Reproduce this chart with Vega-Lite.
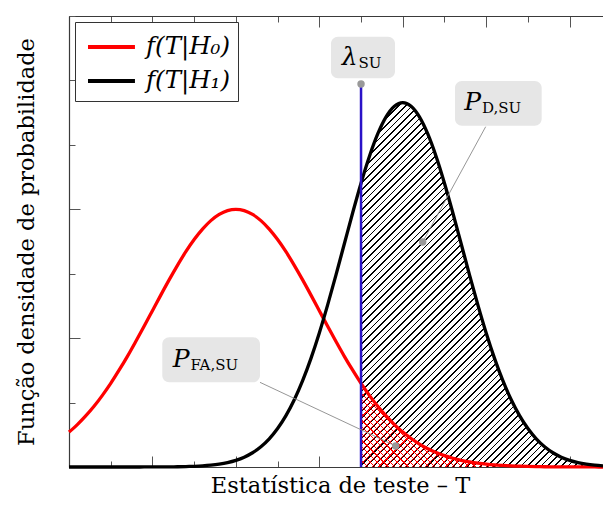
{
  "$schema": "https://vega.github.io/schema/vega-lite/v6.json",
  "width": 534,
  "height": 451,
  "autosize": {"type": "none"},
  "padding": {"left": 69, "top": 16, "right": 0, "bottom": 55},
  "background": "white",
  "config": {
    "view": {"stroke": null},
    "font": "DejaVu Serif",
    "axis": {
      "labels": false,
      "grid": false,
      "domainColor": "#3a3a3a",
      "domainWidth": 1.2,
      "tickColor": "#555555",
      "tickWidth": 1,
      "titleFont": "DejaVu Serif",
      "titleFontSize": 22.5,
      "titleFontWeight": "normal",
      "titleColor": "#000000"
    }
  },
  "datasets": {
    "curvas": [
      {"T": 0.0, "h0": 0.271, "h1": 0},
      {"T": 0.1, "h0": 0.329, "h1": 0},
      {"T": 0.2, "h0": 0.396, "h1": 0},
      {"T": 0.3, "h0": 0.471, "h1": 0},
      {"T": 0.4, "h0": 0.556, "h1": 0},
      {"T": 0.5, "h0": 0.649, "h1": 0},
      {"T": 0.6, "h0": 0.751, "h1": 0},
      {"T": 0.7, "h0": 0.859, "h1": 0},
      {"T": 0.8, "h0": 0.974, "h1": 0},
      {"T": 0.9, "h0": 1.092, "h1": 0.0002},
      {"T": 1.0, "h0": 1.213, "h1": 0.0003},
      {"T": 1.1, "h0": 1.334, "h1": 0.0006},
      {"T": 1.2, "h0": 1.452, "h1": 0.0011},
      {"T": 1.3, "h0": 1.565, "h1": 0.0019},
      {"T": 1.4, "h0": 1.671, "h1": 0.0033},
      {"T": 1.5, "h0": 1.765, "h1": 0.0055},
      {"T": 1.6, "h0": 1.846, "h1": 0.0089},
      {"T": 1.7, "h0": 1.912, "h1": 0.0143},
      {"T": 1.8, "h0": 1.960, "h1": 0.0224},
      {"T": 1.9, "h0": 1.990, "h1": 0.0344},
      {"T": 2.0, "h0": 2.000, "h1": 0.0518},
      {"T": 2.1, "h0": 1.990, "h1": 0.0765},
      {"T": 2.2, "h0": 1.960, "h1": 0.1107},
      {"T": 2.3, "h0": 1.912, "h1": 0.1572},
      {"T": 2.4, "h0": 1.846, "h1": 0.2186},
      {"T": 2.5, "h0": 1.765, "h1": 0.2981},
      {"T": 2.6, "h0": 1.671, "h1": 0.3984},
      {"T": 2.7, "h0": 1.565, "h1": 0.5218},
      {"T": 2.8, "h0": 1.452, "h1": 0.6700},
      {"T": 2.9, "h0": 1.334, "h1": 0.8433},
      {"T": 3.0, "h0": 1.213, "h1": 1.0404},
      {"T": 3.1, "h0": 1.092, "h1": 1.2582},
      {"T": 3.2, "h0": 0.974, "h1": 1.4912},
      {"T": 3.3, "h0": 0.859, "h1": 1.7324},
      {"T": 3.4, "h0": 0.751, "h1": 1.9731},
      {"T": 3.5, "h0": 0.649, "h1": 2.2025},
      {"T": 3.6, "h0": 0.556, "h1": 2.4098},
      {"T": 3.7, "h0": 0.471, "h1": 2.5845},
      {"T": 3.8, "h0": 0.396, "h1": 2.7171},
      {"T": 3.9, "h0": 0.329, "h1": 2.7998},
      {"T": 4.0, "h0": 0.271, "h1": 2.8284},
      {"T": 4.1, "h0": 0.221, "h1": 2.7998},
      {"T": 4.2, "h0": 0.178, "h1": 2.7171},
      {"T": 4.3, "h0": 0.142, "h1": 2.5845},
      {"T": 4.4, "h0": 0.112, "h1": 2.4098},
      {"T": 4.5, "h0": 0.088, "h1": 2.2025},
      {"T": 4.6, "h0": 0.068, "h1": 1.9731},
      {"T": 4.7, "h0": 0.052, "h1": 1.7324},
      {"T": 4.8, "h0": 0.040, "h1": 1.4912},
      {"T": 4.9, "h0": 0.030, "h1": 1.2582},
      {"T": 5.0, "h0": 0.022, "h1": 1.0404},
      {"T": 5.1, "h0": 0.016, "h1": 0.8433},
      {"T": 5.2, "h0": 0.012, "h1": 0.6700},
      {"T": 5.3, "h0": 0.0086, "h1": 0.5218},
      {"T": 5.4, "h0": 0.0062, "h1": 0.3984},
      {"T": 5.5, "h0": 0.0044, "h1": 0.2981},
      {"T": 5.6, "h0": 0.0031, "h1": 0.2186},
      {"T": 5.7, "h0": 0.0021, "h1": 0.1572},
      {"T": 5.8, "h0": 0.0015, "h1": 0.1107},
      {"T": 5.9, "h0": 0.0010, "h1": 0.0765},
      {"T": 6.0, "h0": 0.0007, "h1": 0.0518},
      {"T": 6.1, "h0": 0.0004, "h1": 0.0344},
      {"T": 6.2, "h0": 0.0003, "h1": 0.0224},
      {"T": 6.3, "h0": 0.0002, "h1": 0.0143},
      {"T": 6.4, "h0": 0.0001, "h1": 0.0089}
    ],
    "limiar": [{"T": 3.5, "f": 2.972}],
    "caixas": [
      {"nome": "lambda", "x0": 3.140, "x1": 3.907, "y0": 3.016, "y1": 3.339},
      {"nome": "pd", "x0": 4.626, "x1": 5.665, "y0": 2.649, "y1": 2.995},
      {"nome": "pfa", "x0": 1.118, "x1": 2.289, "y0": 0.657, "y1": 1.007}
    ],
    "rotulos": [
      {"nome": "lambda", "T": 3.458, "f": 3.120, "txt": "λ", "sub": "SU"},
      {"nome": "pd", "T": 4.938, "f": 2.770, "txt": "P", "sub": "D,SU"},
      {"nome": "pfa", "T": 1.444, "f": 0.778, "txt": "P", "sub": "FA,SU"}
    ],
    "ponteiros": [
      {"nome": "pd", "x0": 4.994, "y0": 2.641, "x1": 4.239, "y1": 1.746},
      {"nome": "pfa", "x0": 2.289, "y0": 0.657, "x1": 3.915, "y1": 0.163}
    ],
    "pontos": [
      {"nome": "lambda", "T": 3.5, "f": 2.972},
      {"nome": "pd", "T": 4.239, "f": 1.746},
      {"nome": "pfa", "T": 3.915, "f": 0.163}
    ]
  },
  "resolve": {"axis": {"x": "independent", "y": "independent"}},
  "layer": [
    {
      "data": {"name": "curvas"},
      "transform": [{"filter": "datum.T >= 3.5"}],
      "mark": {
        "type": "area",
        "interpolate": "monotone",
        "fill": {
          "gradient": "linear", "x1": 0, "y1": 0, "x2": 0.8471, "y2": 1.2759,
          "stops": [
            {"offset":0,"color":"#000"},{"offset":0.0025,"color":"#000"},{"offset":0.0025,"color":"#fff"},{"offset":0.01,"color":"#fff"},
            {"offset":0.01,"color":"#000"},{"offset":0.0125,"color":"#000"},{"offset":0.0125,"color":"#fff"},{"offset":0.02,"color":"#fff"},
            {"offset":0.02,"color":"#000"},{"offset":0.0225,"color":"#000"},{"offset":0.0225,"color":"#fff"},{"offset":0.03,"color":"#fff"},
            {"offset":0.03,"color":"#000"},{"offset":0.0325,"color":"#000"},{"offset":0.0325,"color":"#fff"},{"offset":0.04,"color":"#fff"},
            {"offset":0.04,"color":"#000"},{"offset":0.0425,"color":"#000"},{"offset":0.0425,"color":"#fff"},{"offset":0.05,"color":"#fff"},
            {"offset":0.05,"color":"#000"},{"offset":0.0525,"color":"#000"},{"offset":0.0525,"color":"#fff"},{"offset":0.06,"color":"#fff"},
            {"offset":0.06,"color":"#000"},{"offset":0.0625,"color":"#000"},{"offset":0.0625,"color":"#fff"},{"offset":0.07,"color":"#fff"},
            {"offset":0.07,"color":"#000"},{"offset":0.0725,"color":"#000"},{"offset":0.0725,"color":"#fff"},{"offset":0.08,"color":"#fff"},
            {"offset":0.08,"color":"#000"},{"offset":0.0825,"color":"#000"},{"offset":0.0825,"color":"#fff"},{"offset":0.09,"color":"#fff"},
            {"offset":0.09,"color":"#000"},{"offset":0.0925,"color":"#000"},{"offset":0.0925,"color":"#fff"},{"offset":0.10,"color":"#fff"},
            {"offset":0.10,"color":"#000"},{"offset":0.1025,"color":"#000"},{"offset":0.1025,"color":"#fff"},{"offset":0.11,"color":"#fff"},
            {"offset":0.11,"color":"#000"},{"offset":0.1125,"color":"#000"},{"offset":0.1125,"color":"#fff"},{"offset":0.12,"color":"#fff"},
            {"offset":0.12,"color":"#000"},{"offset":0.1225,"color":"#000"},{"offset":0.1225,"color":"#fff"},{"offset":0.13,"color":"#fff"},
            {"offset":0.13,"color":"#000"},{"offset":0.1325,"color":"#000"},{"offset":0.1325,"color":"#fff"},{"offset":0.14,"color":"#fff"},
            {"offset":0.14,"color":"#000"},{"offset":0.1425,"color":"#000"},{"offset":0.1425,"color":"#fff"},{"offset":0.15,"color":"#fff"},
            {"offset":0.15,"color":"#000"},{"offset":0.1525,"color":"#000"},{"offset":0.1525,"color":"#fff"},{"offset":0.16,"color":"#fff"},
            {"offset":0.16,"color":"#000"},{"offset":0.1625,"color":"#000"},{"offset":0.1625,"color":"#fff"},{"offset":0.17,"color":"#fff"},
            {"offset":0.17,"color":"#000"},{"offset":0.1725,"color":"#000"},{"offset":0.1725,"color":"#fff"},{"offset":0.18,"color":"#fff"},
            {"offset":0.18,"color":"#000"},{"offset":0.1825,"color":"#000"},{"offset":0.1825,"color":"#fff"},{"offset":0.19,"color":"#fff"},
            {"offset":0.19,"color":"#000"},{"offset":0.1925,"color":"#000"},{"offset":0.1925,"color":"#fff"},{"offset":0.20,"color":"#fff"},
            {"offset":0.20,"color":"#000"},{"offset":0.2025,"color":"#000"},{"offset":0.2025,"color":"#fff"},{"offset":0.21,"color":"#fff"},
            {"offset":0.21,"color":"#000"},{"offset":0.2125,"color":"#000"},{"offset":0.2125,"color":"#fff"},{"offset":0.22,"color":"#fff"},
            {"offset":0.22,"color":"#000"},{"offset":0.2225,"color":"#000"},{"offset":0.2225,"color":"#fff"},{"offset":0.23,"color":"#fff"},
            {"offset":0.23,"color":"#000"},{"offset":0.2325,"color":"#000"},{"offset":0.2325,"color":"#fff"},{"offset":0.24,"color":"#fff"},
            {"offset":0.24,"color":"#000"},{"offset":0.2425,"color":"#000"},{"offset":0.2425,"color":"#fff"},{"offset":0.25,"color":"#fff"},
            {"offset":0.25,"color":"#000"},{"offset":0.2525,"color":"#000"},{"offset":0.2525,"color":"#fff"},{"offset":0.26,"color":"#fff"},
            {"offset":0.26,"color":"#000"},{"offset":0.2625,"color":"#000"},{"offset":0.2625,"color":"#fff"},{"offset":0.27,"color":"#fff"},
            {"offset":0.27,"color":"#000"},{"offset":0.2725,"color":"#000"},{"offset":0.2725,"color":"#fff"},{"offset":0.28,"color":"#fff"},
            {"offset":0.28,"color":"#000"},{"offset":0.2825,"color":"#000"},{"offset":0.2825,"color":"#fff"},{"offset":0.29,"color":"#fff"},
            {"offset":0.29,"color":"#000"},{"offset":0.2925,"color":"#000"},{"offset":0.2925,"color":"#fff"},{"offset":0.30,"color":"#fff"},
            {"offset":0.30,"color":"#000"},{"offset":0.3025,"color":"#000"},{"offset":0.3025,"color":"#fff"},{"offset":0.31,"color":"#fff"},
            {"offset":0.31,"color":"#000"},{"offset":0.3125,"color":"#000"},{"offset":0.3125,"color":"#fff"},{"offset":0.32,"color":"#fff"},
            {"offset":0.32,"color":"#000"},{"offset":0.3225,"color":"#000"},{"offset":0.3225,"color":"#fff"},{"offset":0.33,"color":"#fff"},
            {"offset":0.33,"color":"#000"},{"offset":0.3325,"color":"#000"},{"offset":0.3325,"color":"#fff"},{"offset":0.34,"color":"#fff"},
            {"offset":0.34,"color":"#000"},{"offset":0.3425,"color":"#000"},{"offset":0.3425,"color":"#fff"},{"offset":0.35,"color":"#fff"},
            {"offset":0.35,"color":"#000"},{"offset":0.3525,"color":"#000"},{"offset":0.3525,"color":"#fff"},{"offset":0.36,"color":"#fff"},
            {"offset":0.36,"color":"#000"},{"offset":0.3625,"color":"#000"},{"offset":0.3625,"color":"#fff"},{"offset":0.37,"color":"#fff"},
            {"offset":0.37,"color":"#000"},{"offset":0.3725,"color":"#000"},{"offset":0.3725,"color":"#fff"},{"offset":0.38,"color":"#fff"},
            {"offset":0.38,"color":"#000"},{"offset":0.3825,"color":"#000"},{"offset":0.3825,"color":"#fff"},{"offset":0.39,"color":"#fff"},
            {"offset":0.39,"color":"#000"},{"offset":0.3925,"color":"#000"},{"offset":0.3925,"color":"#fff"},{"offset":0.40,"color":"#fff"},
            {"offset":0.40,"color":"#000"},{"offset":0.4025,"color":"#000"},{"offset":0.4025,"color":"#fff"},{"offset":0.41,"color":"#fff"},
            {"offset":0.41,"color":"#000"},{"offset":0.4125,"color":"#000"},{"offset":0.4125,"color":"#fff"},{"offset":0.42,"color":"#fff"},
            {"offset":0.42,"color":"#000"},{"offset":0.4225,"color":"#000"},{"offset":0.4225,"color":"#fff"},{"offset":0.43,"color":"#fff"},
            {"offset":0.43,"color":"#000"},{"offset":0.4325,"color":"#000"},{"offset":0.4325,"color":"#fff"},{"offset":0.44,"color":"#fff"},
            {"offset":0.44,"color":"#000"},{"offset":0.4425,"color":"#000"},{"offset":0.4425,"color":"#fff"},{"offset":0.45,"color":"#fff"},
            {"offset":0.45,"color":"#000"},{"offset":0.4525,"color":"#000"},{"offset":0.4525,"color":"#fff"},{"offset":0.46,"color":"#fff"},
            {"offset":0.46,"color":"#000"},{"offset":0.4625,"color":"#000"},{"offset":0.4625,"color":"#fff"},{"offset":0.47,"color":"#fff"},
            {"offset":0.47,"color":"#000"},{"offset":0.4725,"color":"#000"},{"offset":0.4725,"color":"#fff"},{"offset":0.48,"color":"#fff"},
            {"offset":0.48,"color":"#000"},{"offset":0.4825,"color":"#000"},{"offset":0.4825,"color":"#fff"},{"offset":0.49,"color":"#fff"},
            {"offset":0.49,"color":"#000"},{"offset":0.4925,"color":"#000"},{"offset":0.4925,"color":"#fff"},{"offset":0.50,"color":"#fff"},
            {"offset":0.50,"color":"#000"},{"offset":0.5025,"color":"#000"},{"offset":0.5025,"color":"#fff"},{"offset":0.51,"color":"#fff"},
            {"offset":0.51,"color":"#000"},{"offset":0.5125,"color":"#000"},{"offset":0.5125,"color":"#fff"},{"offset":0.52,"color":"#fff"},
            {"offset":0.52,"color":"#000"},{"offset":0.5225,"color":"#000"},{"offset":0.5225,"color":"#fff"},{"offset":0.53,"color":"#fff"},
            {"offset":0.53,"color":"#000"},{"offset":0.5325,"color":"#000"},{"offset":0.5325,"color":"#fff"},{"offset":0.54,"color":"#fff"},
            {"offset":0.54,"color":"#000"},{"offset":0.5425,"color":"#000"},{"offset":0.5425,"color":"#fff"},{"offset":0.55,"color":"#fff"},
            {"offset":0.55,"color":"#000"},{"offset":0.5525,"color":"#000"},{"offset":0.5525,"color":"#fff"},{"offset":0.56,"color":"#fff"},
            {"offset":0.56,"color":"#000"},{"offset":0.5625,"color":"#000"},{"offset":0.5625,"color":"#fff"},{"offset":0.57,"color":"#fff"},
            {"offset":0.57,"color":"#000"},{"offset":0.5725,"color":"#000"},{"offset":0.5725,"color":"#fff"},{"offset":0.58,"color":"#fff"},
            {"offset":0.58,"color":"#000"},{"offset":0.5825,"color":"#000"},{"offset":0.5825,"color":"#fff"},{"offset":0.59,"color":"#fff"},
            {"offset":0.59,"color":"#000"},{"offset":0.5925,"color":"#000"},{"offset":0.5925,"color":"#fff"},{"offset":0.60,"color":"#fff"},
            {"offset":0.60,"color":"#000"},{"offset":0.6025,"color":"#000"},{"offset":0.6025,"color":"#fff"},{"offset":0.61,"color":"#fff"},
            {"offset":0.61,"color":"#000"},{"offset":0.6125,"color":"#000"},{"offset":0.6125,"color":"#fff"},{"offset":0.62,"color":"#fff"},
            {"offset":0.62,"color":"#000"},{"offset":0.6225,"color":"#000"},{"offset":0.6225,"color":"#fff"},{"offset":0.63,"color":"#fff"},
            {"offset":0.63,"color":"#000"},{"offset":0.6325,"color":"#000"},{"offset":0.6325,"color":"#fff"},{"offset":0.64,"color":"#fff"},
            {"offset":0.64,"color":"#000"},{"offset":0.6425,"color":"#000"},{"offset":0.6425,"color":"#fff"},{"offset":0.65,"color":"#fff"},
            {"offset":0.65,"color":"#000"},{"offset":0.6525,"color":"#000"},{"offset":0.6525,"color":"#fff"},{"offset":0.66,"color":"#fff"},
            {"offset":0.66,"color":"#000"},{"offset":0.6625,"color":"#000"},{"offset":0.6625,"color":"#fff"},{"offset":0.67,"color":"#fff"},
            {"offset":0.67,"color":"#000"},{"offset":0.6725,"color":"#000"},{"offset":0.6725,"color":"#fff"},{"offset":0.68,"color":"#fff"},
            {"offset":0.68,"color":"#000"},{"offset":0.6825,"color":"#000"},{"offset":0.6825,"color":"#fff"},{"offset":0.69,"color":"#fff"},
            {"offset":0.69,"color":"#000"},{"offset":0.6925,"color":"#000"},{"offset":0.6925,"color":"#fff"},{"offset":0.70,"color":"#fff"},
            {"offset":0.70,"color":"#000"},{"offset":0.7025,"color":"#000"},{"offset":0.7025,"color":"#fff"},{"offset":0.71,"color":"#fff"},
            {"offset":0.71,"color":"#000"},{"offset":0.7125,"color":"#000"},{"offset":0.7125,"color":"#fff"},{"offset":0.72,"color":"#fff"},
            {"offset":0.72,"color":"#000"},{"offset":0.7225,"color":"#000"},{"offset":0.7225,"color":"#fff"},{"offset":0.73,"color":"#fff"},
            {"offset":0.73,"color":"#000"},{"offset":0.7325,"color":"#000"},{"offset":0.7325,"color":"#fff"},{"offset":0.74,"color":"#fff"},
            {"offset":0.74,"color":"#000"},{"offset":0.7425,"color":"#000"},{"offset":0.7425,"color":"#fff"},{"offset":0.75,"color":"#fff"},
            {"offset":0.75,"color":"#000"},{"offset":0.7525,"color":"#000"},{"offset":0.7525,"color":"#fff"},{"offset":0.76,"color":"#fff"},
            {"offset":0.76,"color":"#000"},{"offset":0.7625,"color":"#000"},{"offset":0.7625,"color":"#fff"},{"offset":0.77,"color":"#fff"},
            {"offset":0.77,"color":"#000"},{"offset":0.7725,"color":"#000"},{"offset":0.7725,"color":"#fff"},{"offset":0.78,"color":"#fff"},
            {"offset":0.78,"color":"#000"},{"offset":0.7825,"color":"#000"},{"offset":0.7825,"color":"#fff"},{"offset":0.79,"color":"#fff"},
            {"offset":0.79,"color":"#000"},{"offset":0.7925,"color":"#000"},{"offset":0.7925,"color":"#fff"},{"offset":0.80,"color":"#fff"},
            {"offset":0.80,"color":"#000"},{"offset":0.8025,"color":"#000"},{"offset":0.8025,"color":"#fff"},{"offset":0.81,"color":"#fff"},
            {"offset":0.81,"color":"#000"},{"offset":0.8125,"color":"#000"},{"offset":0.8125,"color":"#fff"},{"offset":0.82,"color":"#fff"},
            {"offset":0.82,"color":"#000"},{"offset":0.8225,"color":"#000"},{"offset":0.8225,"color":"#fff"},{"offset":0.83,"color":"#fff"},
            {"offset":0.83,"color":"#000"},{"offset":0.8325,"color":"#000"},{"offset":0.8325,"color":"#fff"},{"offset":0.84,"color":"#fff"},
            {"offset":0.84,"color":"#000"},{"offset":0.8425,"color":"#000"},{"offset":0.8425,"color":"#fff"},{"offset":0.85,"color":"#fff"},
            {"offset":0.85,"color":"#000"},{"offset":0.8525,"color":"#000"},{"offset":0.8525,"color":"#fff"},{"offset":0.86,"color":"#fff"},
            {"offset":0.86,"color":"#000"},{"offset":0.8625,"color":"#000"},{"offset":0.8625,"color":"#fff"},{"offset":0.87,"color":"#fff"},
            {"offset":0.87,"color":"#000"},{"offset":0.8725,"color":"#000"},{"offset":0.8725,"color":"#fff"},{"offset":0.88,"color":"#fff"},
            {"offset":0.88,"color":"#000"},{"offset":0.8825,"color":"#000"},{"offset":0.8825,"color":"#fff"},{"offset":0.89,"color":"#fff"},
            {"offset":0.89,"color":"#000"},{"offset":0.8925,"color":"#000"},{"offset":0.8925,"color":"#fff"},{"offset":0.90,"color":"#fff"},
            {"offset":0.90,"color":"#000"},{"offset":0.9025,"color":"#000"},{"offset":0.9025,"color":"#fff"},{"offset":0.91,"color":"#fff"},
            {"offset":0.91,"color":"#000"},{"offset":0.9125,"color":"#000"},{"offset":0.9125,"color":"#fff"},{"offset":1,"color":"#fff"}
          ]
        }
      },
      "encoding": {
        "x": {
          "field": "T", "type": "quantitative",
          "scale": {"domain": [0, 6.4], "nice": false, "zero": false},
          "axis": {
            "orient": "top", "title": null,
            "values": [0, 0.5, 1, 1.5, 2, 2.5, 3, 3.5, 4, 4.5, 5, 5.5, 6],
            "tickSize": {"condition": {"test": "datum.value % 1 === 0", "value": -11}, "value": -6}
          }
        },
        "y": {"field": "h1", "type": "quantitative", "scale": {"domain": [0, 3.5], "nice": false}, "axis": null}
      }
    },
    {
      "data": {"name": "curvas"},
      "transform": [{"filter": "datum.T >= 3.5"}],
      "mark": {
        "type": "area",
        "interpolate": "monotone",
        "fill": {
          "gradient": "linear", "x1": 0, "y1": 0, "x2": 1.2367, "y2": 0.4274,
          "stops": [
            {"offset":0,"color":"#f00"},{"offset":0.0035,"color":"#f00"},{"offset":0.0035,"color":"transparent"},{"offset":0.02,"color":"transparent"},
            {"offset":0.02,"color":"#f00"},{"offset":0.0235,"color":"#f00"},{"offset":0.0235,"color":"transparent"},{"offset":0.04,"color":"transparent"},
            {"offset":0.04,"color":"#f00"},{"offset":0.0435,"color":"#f00"},{"offset":0.0435,"color":"transparent"},{"offset":0.06,"color":"transparent"},
            {"offset":0.06,"color":"#f00"},{"offset":0.0635,"color":"#f00"},{"offset":0.0635,"color":"transparent"},{"offset":0.08,"color":"transparent"},
            {"offset":0.08,"color":"#f00"},{"offset":0.0835,"color":"#f00"},{"offset":0.0835,"color":"transparent"},{"offset":0.10,"color":"transparent"},
            {"offset":0.10,"color":"#f00"},{"offset":0.1035,"color":"#f00"},{"offset":0.1035,"color":"transparent"},{"offset":0.12,"color":"transparent"},
            {"offset":0.12,"color":"#f00"},{"offset":0.1235,"color":"#f00"},{"offset":0.1235,"color":"transparent"},{"offset":0.14,"color":"transparent"},
            {"offset":0.14,"color":"#f00"},{"offset":0.1435,"color":"#f00"},{"offset":0.1435,"color":"transparent"},{"offset":0.16,"color":"transparent"},
            {"offset":0.16,"color":"#f00"},{"offset":0.1635,"color":"#f00"},{"offset":0.1635,"color":"transparent"},{"offset":0.18,"color":"transparent"},
            {"offset":0.18,"color":"#f00"},{"offset":0.1835,"color":"#f00"},{"offset":0.1835,"color":"transparent"},{"offset":0.20,"color":"transparent"},
            {"offset":0.20,"color":"#f00"},{"offset":0.2035,"color":"#f00"},{"offset":0.2035,"color":"transparent"},{"offset":0.22,"color":"transparent"},
            {"offset":0.22,"color":"#f00"},{"offset":0.2235,"color":"#f00"},{"offset":0.2235,"color":"transparent"},{"offset":0.24,"color":"transparent"},
            {"offset":0.24,"color":"#f00"},{"offset":0.2435,"color":"#f00"},{"offset":0.2435,"color":"transparent"},{"offset":0.26,"color":"transparent"},
            {"offset":0.26,"color":"#f00"},{"offset":0.2635,"color":"#f00"},{"offset":0.2635,"color":"transparent"},{"offset":0.28,"color":"transparent"},
            {"offset":0.28,"color":"#f00"},{"offset":0.2835,"color":"#f00"},{"offset":0.2835,"color":"transparent"},{"offset":0.30,"color":"transparent"},
            {"offset":0.30,"color":"#f00"},{"offset":0.3035,"color":"#f00"},{"offset":0.3035,"color":"transparent"},{"offset":0.32,"color":"transparent"},
            {"offset":0.32,"color":"#f00"},{"offset":0.3235,"color":"#f00"},{"offset":0.3235,"color":"transparent"},{"offset":0.34,"color":"transparent"},
            {"offset":0.34,"color":"#f00"},{"offset":0.3435,"color":"#f00"},{"offset":0.3435,"color":"transparent"},{"offset":0.36,"color":"transparent"},
            {"offset":0.36,"color":"#f00"},{"offset":0.3635,"color":"#f00"},{"offset":0.3635,"color":"transparent"},{"offset":0.38,"color":"transparent"},
            {"offset":0.38,"color":"#f00"},{"offset":0.3835,"color":"#f00"},{"offset":0.3835,"color":"transparent"},{"offset":0.40,"color":"transparent"},
            {"offset":0.40,"color":"#f00"},{"offset":0.4035,"color":"#f00"},{"offset":0.4035,"color":"transparent"},{"offset":0.42,"color":"transparent"},
            {"offset":0.42,"color":"#f00"},{"offset":0.4235,"color":"#f00"},{"offset":0.4235,"color":"transparent"},{"offset":0.44,"color":"transparent"},
            {"offset":0.44,"color":"#f00"},{"offset":0.4435,"color":"#f00"},{"offset":0.4435,"color":"transparent"},{"offset":0.46,"color":"transparent"},
            {"offset":0.46,"color":"#f00"},{"offset":0.4635,"color":"#f00"},{"offset":0.4635,"color":"transparent"},{"offset":0.48,"color":"transparent"},
            {"offset":0.48,"color":"#f00"},{"offset":0.4835,"color":"#f00"},{"offset":0.4835,"color":"transparent"},{"offset":0.50,"color":"transparent"},
            {"offset":0.50,"color":"#f00"},{"offset":0.5035,"color":"#f00"},{"offset":0.5035,"color":"transparent"},{"offset":0.52,"color":"transparent"},
            {"offset":0.52,"color":"#f00"},{"offset":0.5235,"color":"#f00"},{"offset":0.5235,"color":"transparent"},{"offset":0.54,"color":"transparent"},
            {"offset":0.54,"color":"#f00"},{"offset":0.5435,"color":"#f00"},{"offset":0.5435,"color":"transparent"},{"offset":0.56,"color":"transparent"},
            {"offset":0.56,"color":"#f00"},{"offset":0.5635,"color":"#f00"},{"offset":0.5635,"color":"transparent"},{"offset":0.58,"color":"transparent"},
            {"offset":0.58,"color":"#f00"},{"offset":0.5835,"color":"#f00"},{"offset":0.5835,"color":"transparent"},{"offset":0.60,"color":"transparent"},
            {"offset":0.60,"color":"#f00"},{"offset":0.6035,"color":"#f00"},{"offset":0.6035,"color":"transparent"},{"offset":0.62,"color":"transparent"},
            {"offset":0.62,"color":"#f00"},{"offset":0.6235,"color":"#f00"},{"offset":0.6235,"color":"transparent"},{"offset":0.64,"color":"transparent"},
            {"offset":0.64,"color":"#f00"},{"offset":0.6435,"color":"#f00"},{"offset":0.6435,"color":"transparent"},{"offset":0.66,"color":"transparent"},
            {"offset":0.66,"color":"#f00"},{"offset":0.6635,"color":"#f00"},{"offset":0.6635,"color":"transparent"},{"offset":0.68,"color":"transparent"},
            {"offset":0.68,"color":"#f00"},{"offset":0.6835,"color":"#f00"},{"offset":0.6835,"color":"transparent"},{"offset":0.70,"color":"transparent"},
            {"offset":0.70,"color":"#f00"},{"offset":0.7035,"color":"#f00"},{"offset":0.7035,"color":"transparent"},{"offset":0.72,"color":"transparent"},
            {"offset":0.72,"color":"#f00"},{"offset":0.7235,"color":"#f00"},{"offset":0.7235,"color":"transparent"},{"offset":0.74,"color":"transparent"},
            {"offset":0.74,"color":"#f00"},{"offset":0.7435,"color":"#f00"},{"offset":0.7435,"color":"transparent"},{"offset":0.76,"color":"transparent"},
            {"offset":0.76,"color":"#f00"},{"offset":0.7635,"color":"#f00"},{"offset":0.7635,"color":"transparent"},{"offset":0.78,"color":"transparent"},
            {"offset":0.78,"color":"#f00"},{"offset":0.7835,"color":"#f00"},{"offset":0.7835,"color":"transparent"},{"offset":0.80,"color":"transparent"},
            {"offset":0.80,"color":"#f00"},{"offset":0.8035,"color":"#f00"},{"offset":0.8035,"color":"transparent"},{"offset":0.82,"color":"transparent"},
            {"offset":0.82,"color":"#f00"},{"offset":0.8235,"color":"#f00"},{"offset":0.8235,"color":"transparent"},{"offset":0.84,"color":"transparent"},
            {"offset":0.84,"color":"#f00"},{"offset":0.8435,"color":"#f00"},{"offset":0.8435,"color":"transparent"},{"offset":0.86,"color":"transparent"},
            {"offset":0.86,"color":"#f00"},{"offset":0.8635,"color":"#f00"},{"offset":0.8635,"color":"transparent"},{"offset":0.88,"color":"transparent"},
            {"offset":0.88,"color":"#f00"},{"offset":0.8835,"color":"#f00"},{"offset":0.8835,"color":"transparent"},{"offset":0.90,"color":"transparent"},
            {"offset":0.90,"color":"#f00"},{"offset":0.9035,"color":"#f00"},{"offset":0.9035,"color":"transparent"},{"offset":0.92,"color":"transparent"},
            {"offset":0.92,"color":"#f00"},{"offset":0.9235,"color":"#f00"},{"offset":0.9235,"color":"transparent"},{"offset":0.94,"color":"transparent"},
            {"offset":0.94,"color":"#f00"},{"offset":0.9435,"color":"#f00"},{"offset":0.9435,"color":"transparent"},{"offset":0.96,"color":"transparent"},
            {"offset":0.96,"color":"#f00"},{"offset":0.9635,"color":"#f00"},{"offset":0.9635,"color":"transparent"},{"offset":1,"color":"transparent"}
          ]
        }
      },
      "encoding": {
        "x": {"field": "T", "type": "quantitative", "axis": null},
        "y": {"field": "h0", "type": "quantitative", "axis": null}
      }
    },
    {
      "data": {"name": "curvas"},
      "transform": [{"filter": "datum.T >= 3.5"}],
      "mark": {
        "type": "area",
        "interpolate": "monotone",
        "fill": {
          "gradient": "linear", "x1": 0, "y1": 1, "x2": 1.2367, "y2": 0.5726,
          "stops": [
            {"offset":0,"color":"#f00"},{"offset":0.0035,"color":"#f00"},{"offset":0.0035,"color":"transparent"},{"offset":0.02,"color":"transparent"},
            {"offset":0.02,"color":"#f00"},{"offset":0.0235,"color":"#f00"},{"offset":0.0235,"color":"transparent"},{"offset":0.04,"color":"transparent"},
            {"offset":0.04,"color":"#f00"},{"offset":0.0435,"color":"#f00"},{"offset":0.0435,"color":"transparent"},{"offset":0.06,"color":"transparent"},
            {"offset":0.06,"color":"#f00"},{"offset":0.0635,"color":"#f00"},{"offset":0.0635,"color":"transparent"},{"offset":0.08,"color":"transparent"},
            {"offset":0.08,"color":"#f00"},{"offset":0.0835,"color":"#f00"},{"offset":0.0835,"color":"transparent"},{"offset":0.10,"color":"transparent"},
            {"offset":0.10,"color":"#f00"},{"offset":0.1035,"color":"#f00"},{"offset":0.1035,"color":"transparent"},{"offset":0.12,"color":"transparent"},
            {"offset":0.12,"color":"#f00"},{"offset":0.1235,"color":"#f00"},{"offset":0.1235,"color":"transparent"},{"offset":0.14,"color":"transparent"},
            {"offset":0.14,"color":"#f00"},{"offset":0.1435,"color":"#f00"},{"offset":0.1435,"color":"transparent"},{"offset":0.16,"color":"transparent"},
            {"offset":0.16,"color":"#f00"},{"offset":0.1635,"color":"#f00"},{"offset":0.1635,"color":"transparent"},{"offset":0.18,"color":"transparent"},
            {"offset":0.18,"color":"#f00"},{"offset":0.1835,"color":"#f00"},{"offset":0.1835,"color":"transparent"},{"offset":0.20,"color":"transparent"},
            {"offset":0.20,"color":"#f00"},{"offset":0.2035,"color":"#f00"},{"offset":0.2035,"color":"transparent"},{"offset":0.22,"color":"transparent"},
            {"offset":0.22,"color":"#f00"},{"offset":0.2235,"color":"#f00"},{"offset":0.2235,"color":"transparent"},{"offset":0.24,"color":"transparent"},
            {"offset":0.24,"color":"#f00"},{"offset":0.2435,"color":"#f00"},{"offset":0.2435,"color":"transparent"},{"offset":0.26,"color":"transparent"},
            {"offset":0.26,"color":"#f00"},{"offset":0.2635,"color":"#f00"},{"offset":0.2635,"color":"transparent"},{"offset":0.28,"color":"transparent"},
            {"offset":0.28,"color":"#f00"},{"offset":0.2835,"color":"#f00"},{"offset":0.2835,"color":"transparent"},{"offset":0.30,"color":"transparent"},
            {"offset":0.30,"color":"#f00"},{"offset":0.3035,"color":"#f00"},{"offset":0.3035,"color":"transparent"},{"offset":0.32,"color":"transparent"},
            {"offset":0.32,"color":"#f00"},{"offset":0.3235,"color":"#f00"},{"offset":0.3235,"color":"transparent"},{"offset":0.34,"color":"transparent"},
            {"offset":0.34,"color":"#f00"},{"offset":0.3435,"color":"#f00"},{"offset":0.3435,"color":"transparent"},{"offset":0.36,"color":"transparent"},
            {"offset":0.36,"color":"#f00"},{"offset":0.3635,"color":"#f00"},{"offset":0.3635,"color":"transparent"},{"offset":0.38,"color":"transparent"},
            {"offset":0.38,"color":"#f00"},{"offset":0.3835,"color":"#f00"},{"offset":0.3835,"color":"transparent"},{"offset":0.40,"color":"transparent"},
            {"offset":0.40,"color":"#f00"},{"offset":0.4035,"color":"#f00"},{"offset":0.4035,"color":"transparent"},{"offset":0.42,"color":"transparent"},
            {"offset":0.42,"color":"#f00"},{"offset":0.4235,"color":"#f00"},{"offset":0.4235,"color":"transparent"},{"offset":0.44,"color":"transparent"},
            {"offset":0.44,"color":"#f00"},{"offset":0.4435,"color":"#f00"},{"offset":0.4435,"color":"transparent"},{"offset":0.46,"color":"transparent"},
            {"offset":0.46,"color":"#f00"},{"offset":0.4635,"color":"#f00"},{"offset":0.4635,"color":"transparent"},{"offset":0.48,"color":"transparent"},
            {"offset":0.48,"color":"#f00"},{"offset":0.4835,"color":"#f00"},{"offset":0.4835,"color":"transparent"},{"offset":0.50,"color":"transparent"},
            {"offset":0.50,"color":"#f00"},{"offset":0.5035,"color":"#f00"},{"offset":0.5035,"color":"transparent"},{"offset":0.52,"color":"transparent"},
            {"offset":0.52,"color":"#f00"},{"offset":0.5235,"color":"#f00"},{"offset":0.5235,"color":"transparent"},{"offset":0.54,"color":"transparent"},
            {"offset":0.54,"color":"#f00"},{"offset":0.5435,"color":"#f00"},{"offset":0.5435,"color":"transparent"},{"offset":0.56,"color":"transparent"},
            {"offset":0.56,"color":"#f00"},{"offset":0.5635,"color":"#f00"},{"offset":0.5635,"color":"transparent"},{"offset":0.58,"color":"transparent"},
            {"offset":0.58,"color":"#f00"},{"offset":0.5835,"color":"#f00"},{"offset":0.5835,"color":"transparent"},{"offset":0.60,"color":"transparent"},
            {"offset":0.60,"color":"#f00"},{"offset":0.6035,"color":"#f00"},{"offset":0.6035,"color":"transparent"},{"offset":0.62,"color":"transparent"},
            {"offset":0.62,"color":"#f00"},{"offset":0.6235,"color":"#f00"},{"offset":0.6235,"color":"transparent"},{"offset":0.64,"color":"transparent"},
            {"offset":0.64,"color":"#f00"},{"offset":0.6435,"color":"#f00"},{"offset":0.6435,"color":"transparent"},{"offset":0.66,"color":"transparent"},
            {"offset":0.66,"color":"#f00"},{"offset":0.6635,"color":"#f00"},{"offset":0.6635,"color":"transparent"},{"offset":0.68,"color":"transparent"},
            {"offset":0.68,"color":"#f00"},{"offset":0.6835,"color":"#f00"},{"offset":0.6835,"color":"transparent"},{"offset":0.70,"color":"transparent"},
            {"offset":0.70,"color":"#f00"},{"offset":0.7035,"color":"#f00"},{"offset":0.7035,"color":"transparent"},{"offset":0.72,"color":"transparent"},
            {"offset":0.72,"color":"#f00"},{"offset":0.7235,"color":"#f00"},{"offset":0.7235,"color":"transparent"},{"offset":0.74,"color":"transparent"},
            {"offset":0.74,"color":"#f00"},{"offset":0.7435,"color":"#f00"},{"offset":0.7435,"color":"transparent"},{"offset":0.76,"color":"transparent"},
            {"offset":0.76,"color":"#f00"},{"offset":0.7635,"color":"#f00"},{"offset":0.7635,"color":"transparent"},{"offset":0.78,"color":"transparent"},
            {"offset":0.78,"color":"#f00"},{"offset":0.7835,"color":"#f00"},{"offset":0.7835,"color":"transparent"},{"offset":0.80,"color":"transparent"},
            {"offset":0.80,"color":"#f00"},{"offset":0.8035,"color":"#f00"},{"offset":0.8035,"color":"transparent"},{"offset":0.82,"color":"transparent"},
            {"offset":0.82,"color":"#f00"},{"offset":0.8235,"color":"#f00"},{"offset":0.8235,"color":"transparent"},{"offset":0.84,"color":"transparent"},
            {"offset":0.84,"color":"#f00"},{"offset":0.8435,"color":"#f00"},{"offset":0.8435,"color":"transparent"},{"offset":0.86,"color":"transparent"},
            {"offset":0.86,"color":"#f00"},{"offset":0.8635,"color":"#f00"},{"offset":0.8635,"color":"transparent"},{"offset":0.88,"color":"transparent"},
            {"offset":0.88,"color":"#f00"},{"offset":0.8835,"color":"#f00"},{"offset":0.8835,"color":"transparent"},{"offset":0.90,"color":"transparent"},
            {"offset":0.90,"color":"#f00"},{"offset":0.9035,"color":"#f00"},{"offset":0.9035,"color":"transparent"},{"offset":0.92,"color":"transparent"},
            {"offset":0.92,"color":"#f00"},{"offset":0.9235,"color":"#f00"},{"offset":0.9235,"color":"transparent"},{"offset":0.94,"color":"transparent"},
            {"offset":0.94,"color":"#f00"},{"offset":0.9435,"color":"#f00"},{"offset":0.9435,"color":"transparent"},{"offset":0.96,"color":"transparent"},
            {"offset":0.96,"color":"#f00"},{"offset":0.9635,"color":"#f00"},{"offset":0.9635,"color":"transparent"},{"offset":1,"color":"transparent"}
          ]
        }
      },
      "encoding": {
        "x": {"field": "T", "type": "quantitative", "axis": null},
        "y": {"field": "h0", "type": "quantitative", "axis": null}
      }
    },
    {
      "data": {"name": "curvas"},
      "transform": [{"fold": ["h0", "h1"], "as": ["curva", "f"]}],
      "mark": {"type": "line", "interpolate": "monotone", "strokeWidth": 3.3},
      "encoding": {
        "x": {
          "field": "T", "type": "quantitative",
          "axis": {
            "orient": "bottom",
            "title": "Estatística de teste – T",
            "titleY": 25, "titleX": 271, "titleBaseline": "alphabetic",
            "values": [0, 0.5, 1, 1.5, 2, 2.5, 3, 3.5, 4, 4.5, 5, 5.5, 6],
            "tickSize": {"condition": {"test": "datum.value % 1 === 0", "value": -11}, "value": -6}
          }
        },
        "y": {
          "field": "f", "type": "quantitative",
          "axis": {
            "orient": "left",
            "title": "Função densidade de probabilidade",
            "titleX": -36, "titleAngle": 270, "titleBaseline": "alphabetic",
            "values": [0, 0.5, 1, 1.5, 2, 2.5, 3, 3.5],
            "tickSize": {"condition": {"test": "datum.value % 1 === 0", "value": -11}, "value": -6}
          }
        },
        "color": {
          "field": "curva", "type": "nominal",
          "scale": {"domain": ["h0", "h1"], "range": ["#ff0000", "#000000"]},
          "legend": {
            "orient": "none", "legendX": 6, "legendY": 6, "title": null,
            "symbolType": "M-0.8,0H2.33", "symbolSize": 900, "symbolStrokeWidth": 4,
            "labelExpr": "datum.value === 'h0' ? 'f(T|H₀)' : 'f(T|H₁)'",
            "labelFont": "DejaVu Serif", "labelFontStyle": "italic", "labelFontSize": 24.5, "labelColor": "#000",
            "labelOffset": 29, "rowPadding": 5, "padding": 8,
            "fillColor": "#ffffff", "strokeColor": "#333333"
          }
        }
      }
    },
    {
      "data": {"name": "limiar"},
      "mark": {"type": "rule", "color": "#2a12c8", "strokeWidth": 2.5},
      "encoding": {
        "x": {"field": "T", "type": "quantitative", "axis": null},
        "y": {"field": "f", "type": "quantitative", "axis": null},
        "y2": {"datum": 0}
      }
    },
    {
      "data": {"name": "ponteiros"},
      "mark": {"type": "rule", "color": "#8a8a8a", "strokeWidth": 0.9},
      "encoding": {
        "x": {"field": "x0", "type": "quantitative", "axis": null},
        "y": {"field": "y0", "type": "quantitative", "axis": null},
        "x2": {"field": "x1"},
        "y2": {"field": "y1"}
      }
    },
    {
      "data": {"name": "pontos"},
      "mark": {"type": "circle", "color": "#999999", "opacity": 1, "size": 55},
      "encoding": {
        "x": {"field": "T", "type": "quantitative", "axis": null},
        "y": {"field": "f", "type": "quantitative", "axis": null}
      }
    },
    {
      "data": {"name": "caixas"},
      "mark": {"type": "rect", "color": "#e6e6e6", "cornerRadius": 7},
      "encoding": {
        "x": {"field": "x0", "type": "quantitative", "axis": null},
        "x2": {"field": "x1"},
        "y": {"field": "y0", "type": "quantitative", "axis": null},
        "y2": {"field": "y1"}
      }
    },
    {
      "data": {"name": "rotulos"},
      "mark": {"type": "text", "font": "DejaVu Serif", "fontStyle": "italic", "fontSize": 25, "align": "right", "baseline": "alphabetic", "color": "#000"},
      "encoding": {
        "x": {"field": "T", "type": "quantitative", "axis": null},
        "y": {"field": "f", "type": "quantitative", "axis": null},
        "text": {"field": "txt", "type": "nominal"}
      }
    },
    {
      "data": {"name": "rotulos"},
      "mark": {"type": "text", "font": "DejaVu Serif", "fontSize": 15, "align": "left", "baseline": "alphabetic", "dx": 1, "dy": 3, "color": "#000"},
      "encoding": {
        "x": {"field": "T", "type": "quantitative", "axis": null},
        "y": {"field": "f", "type": "quantitative", "axis": null},
        "text": {"field": "sub", "type": "nominal"}
      }
    }
  ]
}
